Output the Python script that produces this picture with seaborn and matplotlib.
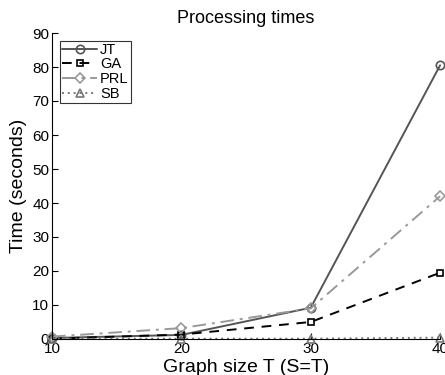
import matplotlib
matplotlib.use("Agg")
import matplotlib.pyplot as plt
import seaborn as sns
import pandas as pd

sizes = [10, 20, 30, 40]
series_names = ["JT", "GA", "PRL", "SB"]
jt = [0.3, 1.2, 9.2, 80.5]
ga = [0.1, 1.3, 5.0, 19.5]
prl = [0.7, 3.2, 9.0, 42.0]
sb = [0.1, 0.1, 0.1, 0.4]
yticks = [0, 10, 20, 30, 40, 50, 60, 70, 80, 90]
xticks = [10, 20, 30, 40]

sns.set_theme(style="ticks")
plt.rcParams['font.family'] = ['Liberation Sans', 'DejaVu Sans']
plt.rcParams['text.color'] = 'black'
plt.rcParams['axes.labelcolor'] = 'black'

rows = []
for name, vals in zip(series_names, [jt, ga, prl, sb]):
    for s, v in zip(sizes, vals):
        rows.append({"size": s, "time": v, "method": name})
df = pd.DataFrame(rows)

styles = {
    "JT": dict(color="#555555", linestyle="-", marker="o", ms=6),
    "GA": dict(color="#000000", linestyle=(0, (5, 4)), marker="s", ms=5),
    "PRL": dict(color="#999999", linestyle=(0, (7, 3, 1.5, 3)), marker="D", ms=5),
    "SB": dict(color="#777777", linestyle=(0, (1, 2)), marker="^", ms=6),
}

fig = plt.figure(figsize=(4.45, 3.75), dpi=100)
ax = fig.add_axes([0.117, 0.096, 0.872, 0.816])

for name in series_names:
    st = styles[name]
    sub = df[df["method"] == name]
    sns.lineplot(data=sub, x="size", y="time", ax=ax, color=st["color"],
                 linestyle=st["linestyle"], marker=st["marker"], markersize=st["ms"],
                 markerfacecolor="none", markeredgecolor=st["color"], markeredgewidth=1.2,
                 linewidth=1.4, label=name, clip_on=False)

ax.set_xlim(10, 40)
ax.set_ylim(0, 90)
ax.set_xticks(xticks)
ax.set_yticks(yticks)
ax.tick_params(direction="in", length=4, labelsize=11, colors="black", width=0.8, pad=2)
for side in ["top", "right"]:
    ax.spines[side].set_visible(False)
for side in ["left", "bottom"]:
    ax.spines[side].set_color("black")
    ax.spines[side].set_linewidth(0.8)
ax.set_title("Processing times", fontsize=13, pad=7, color="black")
ax.set_xlabel("Graph size T (S=T)", fontsize=14, labelpad=2)
ax.set_ylabel("Time (seconds)", fontsize=14, labelpad=4)

leg = ax.legend(loc="upper left", bbox_to_anchor=(0.013, 0.985), frameon=True, fancybox=False,
                edgecolor="black", fontsize=10.5, handlelength=2.4, borderpad=0.15,
                labelspacing=0.05, handletextpad=0.2, borderaxespad=0.2)
leg.get_frame().set_linewidth(0.8)
for t in leg.get_texts():
    t.set_color("black")

fig.savefig("out.png", dpi=100)
